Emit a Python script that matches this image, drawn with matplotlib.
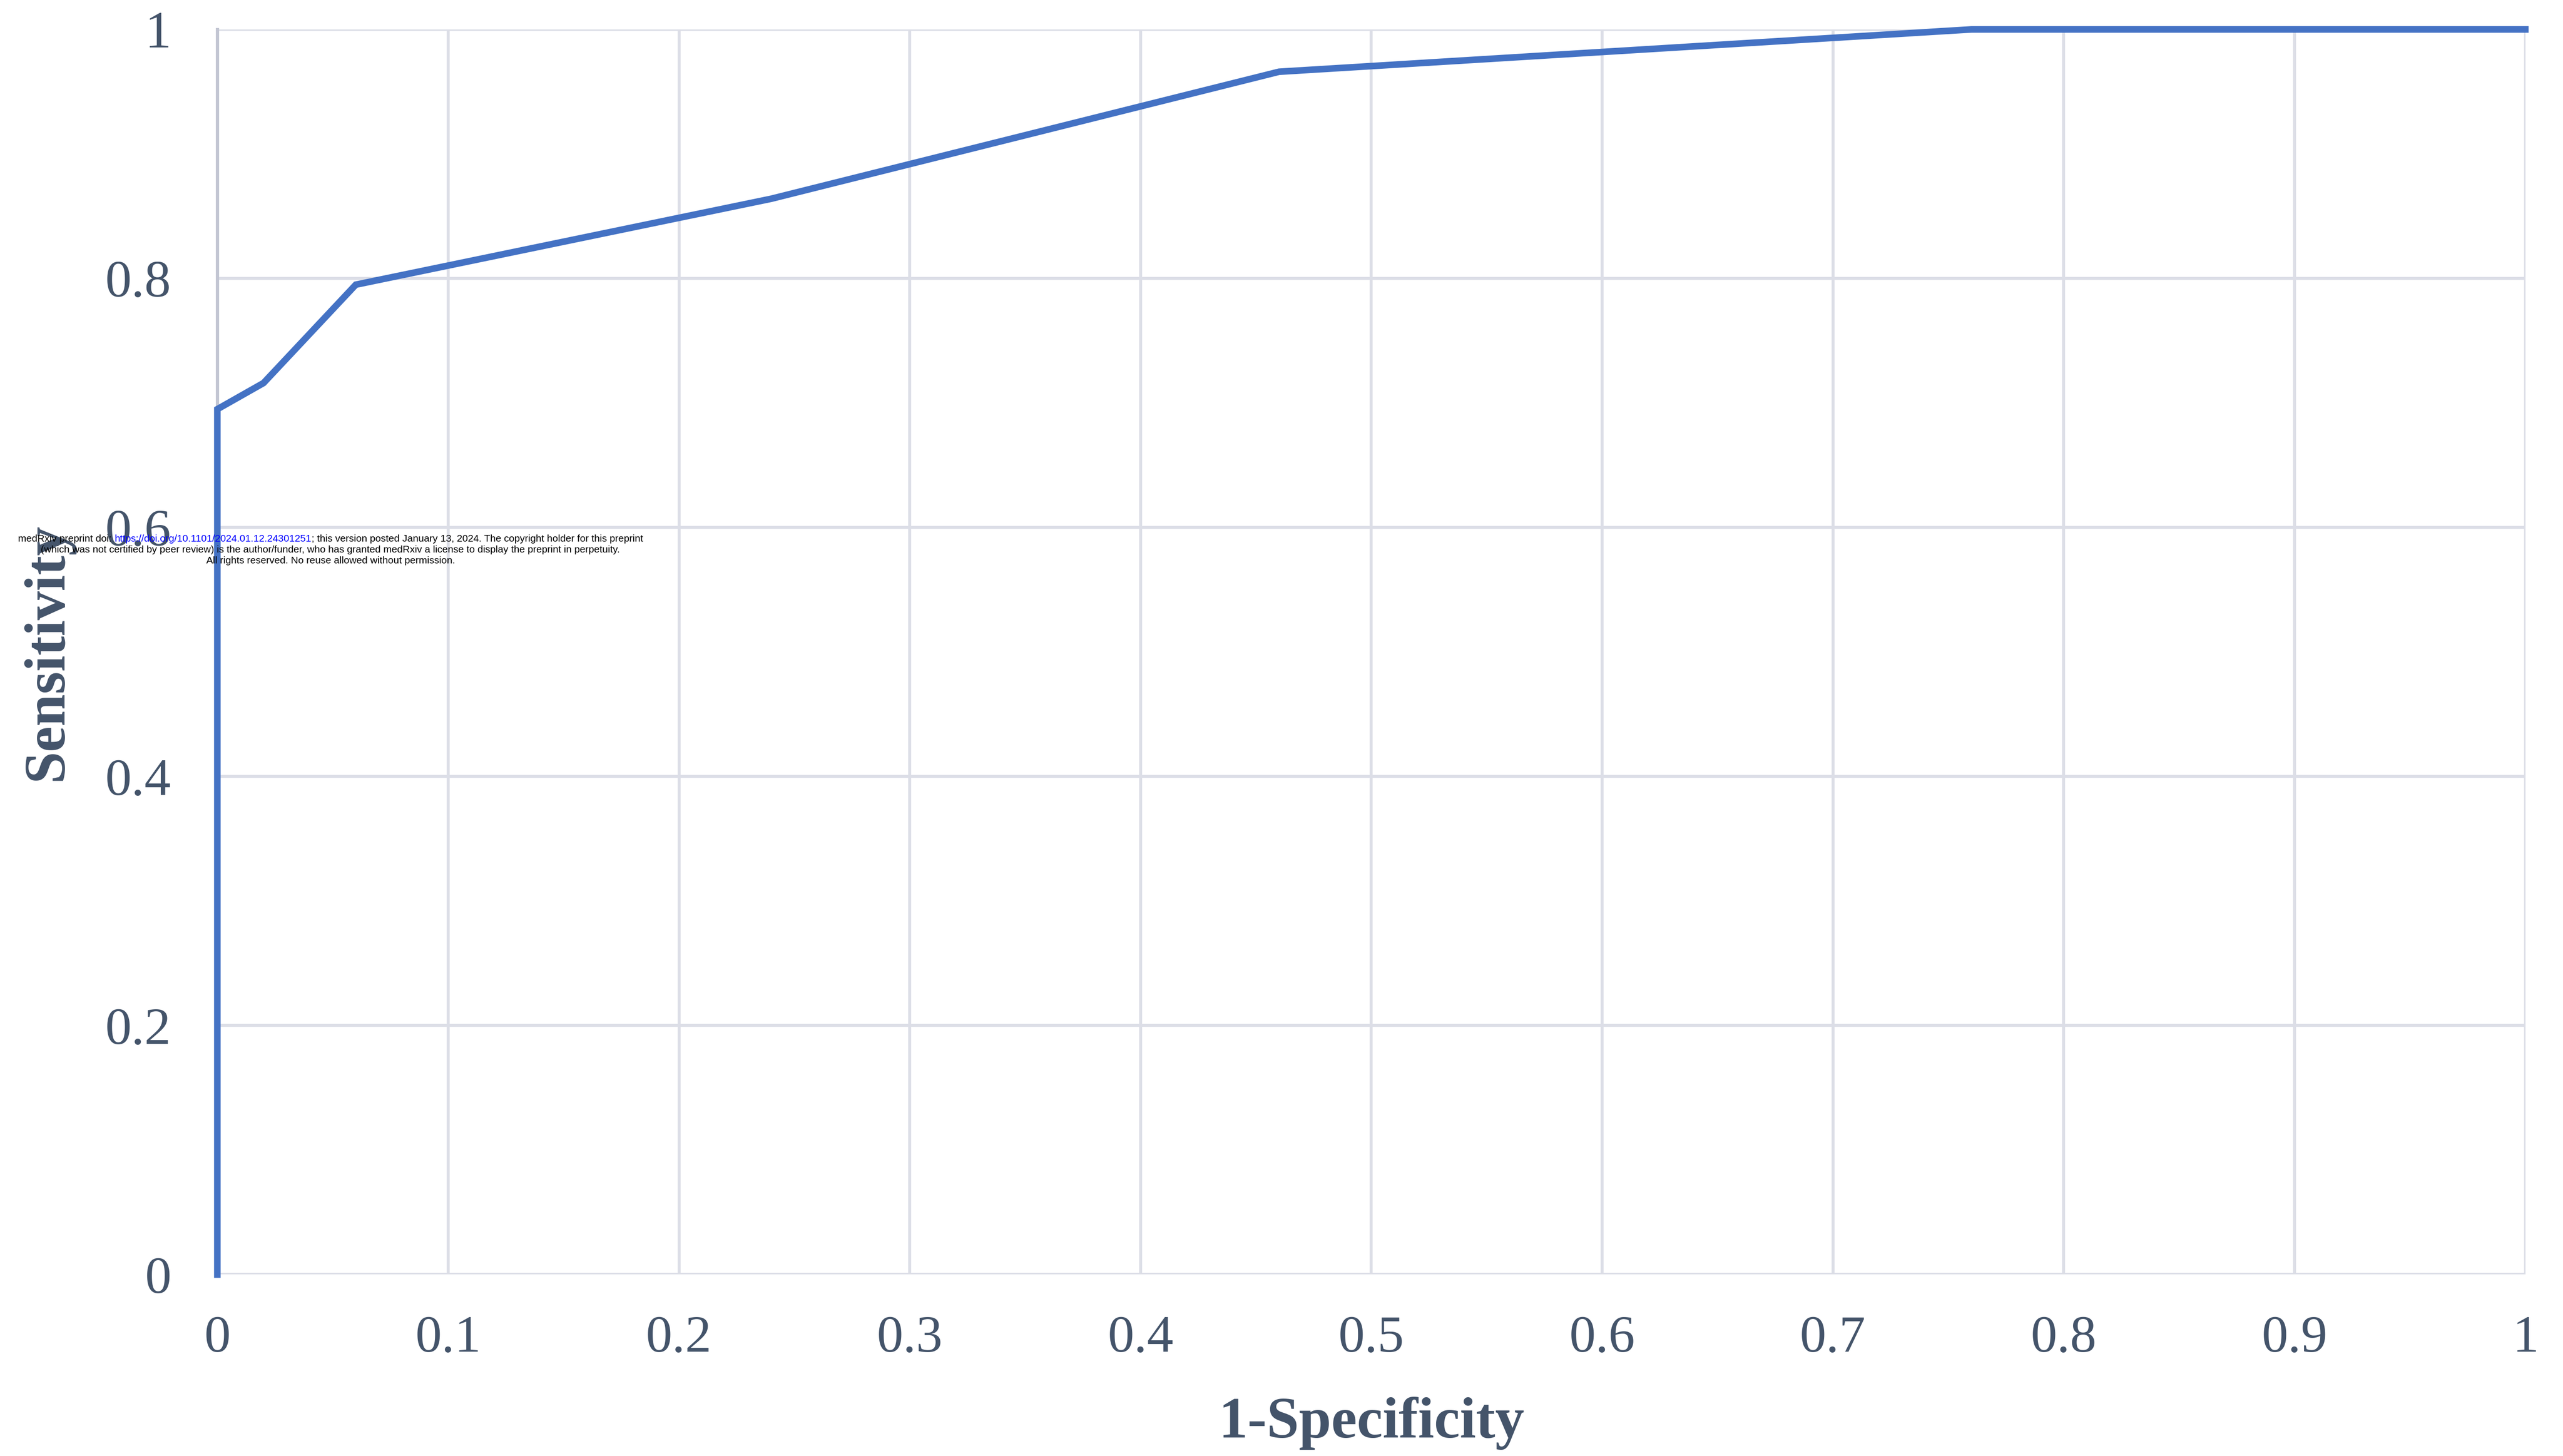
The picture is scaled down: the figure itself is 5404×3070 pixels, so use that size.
import matplotlib.pyplot as plt

# ROC curve points
fpr = [0.0, 0.0, 0.02, 0.06, 0.24, 0.46, 0.76, 1.0]
tpr = [0.0, 0.695, 0.716, 0.795, 0.864, 0.966, 1.0, 1.0]

x_ticks = [0, 0.1, 0.2, 0.3, 0.4, 0.5, 0.6, 0.7, 0.8, 0.9, 1]
x_tick_labels = ['0', '0.1', '0.2', '0.3', '0.4', '0.5', '0.6', '0.7', '0.8', '0.9', '1']
y_ticks = [0, 0.2, 0.4, 0.6, 0.8, 1]
y_tick_labels = ['0', '0.2', '0.4', '0.6', '0.8', '1']

text_color = '#44546A'
grid_color = '#DCDEE7'
serif = ['Liberation Serif', 'DejaVu Serif']

fig = plt.figure(figsize=(54.04, 30.70), dpi=100)
ax = fig.add_axes([0.0848, 0.1246, 0.9005, 0.8552])

ax.plot(fpr, tpr, color='#4472C4', linewidth=10, solid_joinstyle='miter', clip_on=False, zorder=3)

ax.set_xlim(0, 1)
ax.set_ylim(0, 1)
ax.set_xticks(x_ticks)
ax.set_xticklabels(x_tick_labels)
ax.set_yticks(y_ticks)
ax.set_yticklabels(y_tick_labels)
ax.grid(True, color=grid_color, linewidth=4.5, zorder=0)
ax.set_axisbelow(True)

for side in ['top', 'right', 'bottom']:
    ax.spines[side].set_visible(False)
ax.spines['left'].set_color('#C3C6D3')
ax.spines['left'].set_linewidth(5)
ax.spines['left'].set_zorder(1)

ax.tick_params(axis='both', length=0, labelsize=80, labelcolor=text_color)
ax.tick_params(axis='x', pad=62)
ax.tick_params(axis='y', pad=70)
for lab in ax.get_xticklabels() + ax.get_yticklabels():
    lab.set_family(serif)

ax.set_xlabel('1-Specificity', fontsize=88, fontweight='bold', color=text_color, family=serif)
ax.set_ylabel('Sensitivity', fontsize=88, fontweight='bold', color=text_color, family=serif)
ax.xaxis.set_label_coords(0.5, -0.098)
ax.yaxis.set_label_coords(-0.062, 0.5)

# medRxiv watermark
wm_font = ['Liberation Sans', 'DejaVu Sans']
wm_size = 15
wm_center = 697 / 5404
t1 = fig.text(0.0, 1 - 1137 / 3070, 'medRxiv preprint doi: ', fontsize=wm_size,
              family=wm_font, color='black', ha='left', va='center')
t2 = ax.annotate('https://doi.org/10.1101/2024.01.12.24301251', xy=(1, 0.5), xycoords=t1,
                 fontsize=wm_size, family=wm_font, color='blue', ha='left', va='center',
                 annotation_clip=False)
t3 = ax.annotate('; this version posted January 13, 2024. The copyright holder for this preprint',
                 xy=(1, 0.5), xycoords=t2, fontsize=wm_size, family=wm_font, color='black',
                 ha='left', va='center', annotation_clip=False)
fig.text(wm_center, 1 - 1160 / 3070,
         '(which was not certified by peer review) is the author/funder, who has granted medRxiv a license to display the preprint in perpetuity.',
         fontsize=wm_size, family=wm_font, color='black', ha='center', va='center')
fig.text(wm_center, 1 - 1183 / 3070, 'All rights reserved. No reuse allowed without permission.',
         fontsize=wm_size, family=wm_font, color='black', ha='center', va='center')

# centre the first watermark line
fig.canvas.draw()
r = fig.canvas.get_renderer()
total = t3.get_window_extent(r).x1 - t1.get_window_extent(r).x0
t1.set_x(wm_center - total / 2 / fig.bbox.width)

fig.savefig('out.png', dpi=100, facecolor='white')
